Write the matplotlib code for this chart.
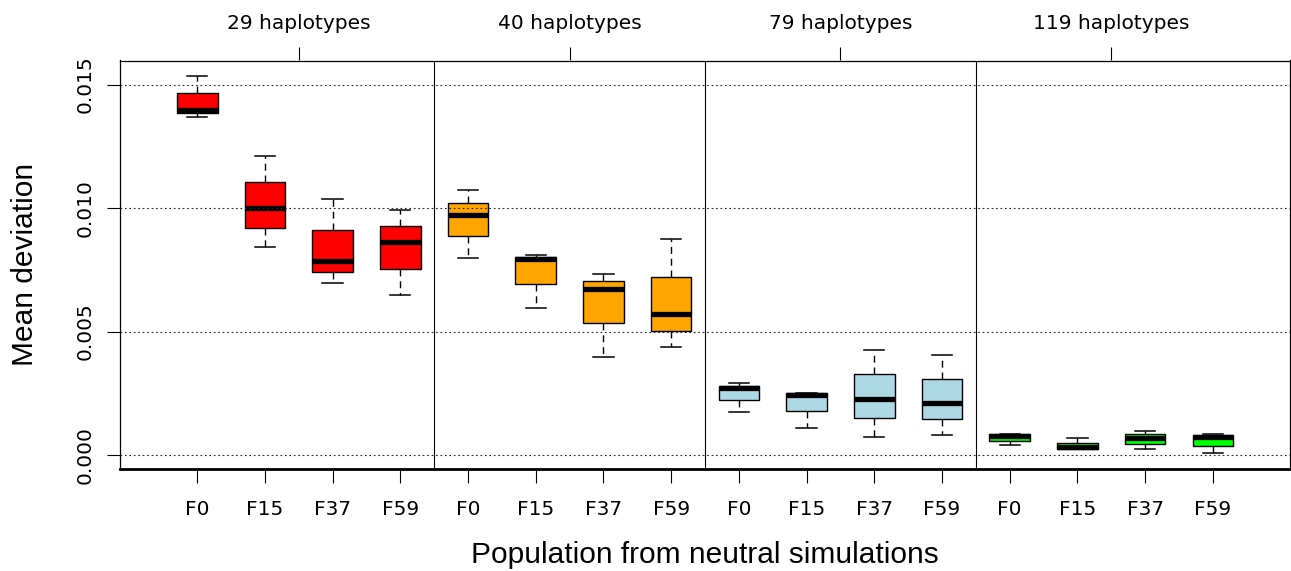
import matplotlib
matplotlib.use("Agg")
import matplotlib.pyplot as plt
import numpy as np

# Haplotype panels and sampled generations within each panel
groups = ["29 haplotypes", "40 haplotypes", "79 haplotypes", "119 haplotypes"]
generations = ["F0", "F15", "F37", "F59"]
group_colors = ["#FF0000", "#FFA500", "#ADD8E6", "#00FF00"]

# Five-number summaries, one entry per box (panel-major order)
whisker_low = [0.01369, 0.00841, 0.00698, 0.00648,
               0.00798, 0.00595, 0.00397, 0.00439,
               0.00175, 0.00111, 0.00073, 0.00082,
               0.00042, 0.00023, 0.00026, 0.00007]
quartile_1 = [0.01384, 0.00921, 0.00742, 0.00753,
              0.00886, 0.00693, 0.00535, 0.00502,
              0.00222, 0.00178, 0.00149, 0.00145,
              0.00057, 0.00023, 0.00047, 0.00038]
medians = [0.01397, 0.01002, 0.00787, 0.00861,
           0.00973, 0.00793, 0.00674, 0.00570,
           0.00271, 0.00244, 0.00227, 0.00209,
           0.00076, 0.00031, 0.00070, 0.00073]
quartile_3 = [0.01467, 0.01106, 0.00913, 0.00929,
              0.01022, 0.00802, 0.00705, 0.00722,
              0.00281, 0.00251, 0.00327, 0.00307,
              0.00085, 0.00051, 0.00085, 0.00081]
whisker_high = [0.01536, 0.01212, 0.01038, 0.00994,
                0.01072, 0.00810, 0.00734, 0.00875,
                0.00292, 0.00251, 0.00425, 0.00405,
                0.00086, 0.00069, 0.00098, 0.00085]

y_ticks = [0.000, 0.005, 0.010, 0.015]
y_tick_labels = ["0.000", "0.005", "0.010", "0.015"]

plt.rcParams["font.family"] = ["DejaVu Sans"]

n_gen = len(generations)
n_box = len(groups) * n_gen
positions = np.arange(1, n_box + 1)

stats = [dict(whislo=lo, q1=a, med=m, q3=b, whishi=hi, fliers=[])
         for lo, a, m, b, hi in zip(whisker_low, quartile_1, medians,
                                     quartile_3, whisker_high)]

W, H = 1291, 571
fig = plt.figure(figsize=(W / 100, H / 100), dpi=100)
left, right, top, bottom = 120, 1290, 60.5, 468.5
ax = fig.add_axes([left / W, 1 - bottom / H, (right - left) / W, (bottom - top) / H])

bp = ax.bxp(stats, positions=positions, widths=0.6, capwidths=0.3,
            patch_artist=True, showfliers=False,
            boxprops=dict(edgecolor="black", linewidth=1.0),
            whiskerprops=dict(color="black", linewidth=1.0, linestyle=(0, (5, 3.5))),
            capprops=dict(color="black", linewidth=1.1),
            medianprops=dict(color="black", linewidth=3.8, solid_capstyle="butt"))
for i, patch in enumerate(bp["boxes"]):
    patch.set_facecolor(group_colors[i // n_gen])

# R-style axis ranges: 4% padding around the data
lo_all, hi_all = min(whisker_low), max(whisker_high)
pad = 0.04 * (hi_all - lo_all)
ax.set_ylim(lo_all - pad, hi_all + pad)
xpad = 0.04 * n_box
ax.set_xlim(0.5 - xpad, n_box + 0.5 + xpad)

# dotted reference lines and panel separators
for yv in y_ticks:
    ax.axhline(yv, color="#222222", linewidth=0.8, linestyle=(0, (1.5, 2.5)), zorder=5)
for k in range(1, len(groups)):
    ax.axvline(k * n_gen + 0.5, color="black", linewidth=0.8, zorder=5)

for side in ["left", "right", "top"]:
    ax.spines[side].set_linewidth(0.9)
ax.spines["bottom"].set_linewidth(2.0)

ax.set_xticks(positions, labels=generations * len(groups))
ax.set_yticks(y_ticks, labels=y_tick_labels)
ax.tick_params(axis="x", direction="out", length=10, width=0.8, pad=12.5, labelsize=14.5)
ax.tick_params(axis="y", direction="out", length=9.6, width=0.8, pad=9, labelsize=14.5)
for lab in ax.get_yticklabels():
    lab.set_rotation(90)
    lab.set_va("center")

# panel titles on the top axis
centers = [g * n_gen + (n_gen + 1) / 2 for g in range(len(groups))]
sec = ax.secondary_xaxis("top")
sec.set_xticks(centers, labels=groups)
sec.tick_params(axis="x", direction="out", length=9.6, width=0.8, pad=10, labelsize=14.5)
sec.spines["top"].set_visible(False)

fig.text((left + right) / 2 / W, 1 - 563 / H, "Population from neutral simulations",
         ha="center", va="baseline", fontsize=21.5, family="Liberation Sans")
fig.text(33.3 / W, 1 - (top + bottom) / 2 / H, "Mean deviation", rotation=90,
         rotation_mode="anchor", ha="center", va="baseline", fontsize=21.5,
         family="Liberation Sans")

fig.savefig("out.png", dpi=100)
